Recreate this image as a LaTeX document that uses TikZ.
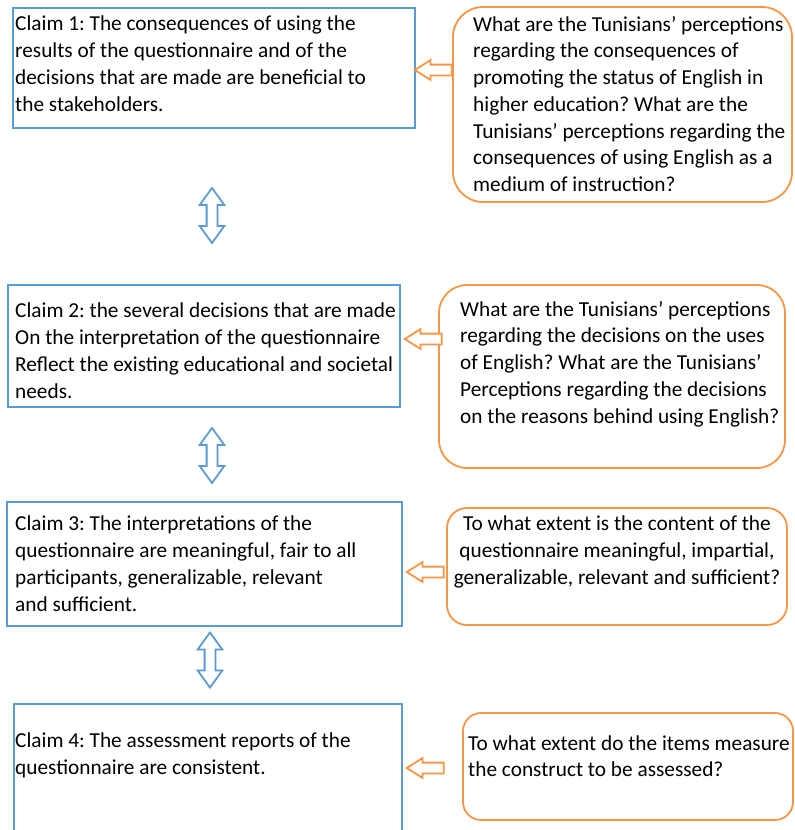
\documentclass[tikz,border=0pt]{standalone}
\usepackage{fontspec}
\setmainfont{Carlito}
\usetikzlibrary{shapes.arrows}

\definecolor{cblue}{RGB}{91,155,213}
\definecolor{qorange}{RGB}{247,150,70}

\begin{document}
\frenchspacing
\begin{tikzpicture}[
  x=1pt, y=-1pt,
  claimbox/.style={draw=cblue, line width=1.8pt, rectangle, inner sep=0pt},
  questbox/.style={draw=qorange, line width=1.8pt, rectangle, inner sep=0pt},
  boxtext/.style={anchor=north west, inner sep=0pt, align=left, text=black,
    font=\fontsize{21.3}{26.7}\selectfont},
  leftarrow/.style={single arrow, draw=qorange, line width=1.8pt, fill=white,
    shape border rotate=180, minimum height=37pt, inner sep=4.5pt,
    single arrow head extend=4.5pt, single arrow tip angle=64, anchor=tip},
  updown/.style={double arrow, draw=cblue, line width=1.8pt, fill=white,
    shape border rotate=90, minimum height=55pt, inner sep=4.5pt,
    double arrow head extend=7pt, double arrow tip angle=72}
]
\useasboundingbox (0,0) rectangle (795,830);

% claims on the left
\node[claimbox, minimum width=402pt, minimum height=120pt] (c1) at (214,68) {};
\node[claimbox, minimum width=392pt, minimum height=122pt] (c2) at (204,346) {};
\node[claimbox, minimum width=395pt, minimum height=124pt] (c3) at (204.5,564) {};
\node[claimbox, minimum width=388pt, minimum height=132pt] (c4) at (208,770) {};

% questions on the right
\node[questbox, rounded corners=30pt, minimum width=339pt, minimum height=195pt] (q1) at (622.5,104.5) {};
\node[questbox, rounded corners=28pt, minimum width=346pt, minimum height=183pt] (q2) at (612,376.5) {};
\node[questbox, rounded corners=20pt, minimum width=340pt, minimum height=117pt] (q3) at (617,566.5) {};
\node[questbox, rounded corners=18pt, minimum width=330pt, minimum height=107pt] (q4) at (628,766.5) {};

% texts
\node[boxtext] (c1t) at (15,16) {Claim 1: The consequences of using the\\
  results of the questionnaire and of the\\
  decisions that are made are beneficial to\\
  the stakeholders.};
\node[boxtext] (c2t) at (15,303) {Claim 2: the several decisions that are made\\
  On the interpretation of the questionnaire\\
  Reflect the existing educational and societal\\
  needs.};
\node[boxtext] (c3t) at (15,516) {Claim 3: The interpretations of the\\
  questionnaire are meaningful, fair to all\\
  participants, generalizable, relevant\\
  and sufficient.};
\node[boxtext] (c4t) at (15,733) {Claim 4: The assessment reports of the\\
  questionnaire are consistent.};

\node[boxtext] (q1t) at (473,16) {What are the Tunisians’ perceptions\\
  regarding the consequences of\\
  promoting the status of English in\\
  higher education? What are the\\
  Tunisians’ perceptions regarding the\\
  consequences of using English as a\\
  medium of instruction?};
\node[boxtext] (q2t) at (460,301) {What are the Tunisians’ perceptions\\
  regarding the decisions on the uses\\
  of English? What are the Tunisians’\\
  Perceptions regarding the decisions\\
  on the reasons behind using English?};
\node[boxtext, anchor=north, align=center] (q3t) at (617,516) {To what extent is the content of the\\
  questionnaire meaningful, impartial,\\
  generalizable, relevant and sufficient?};
\node[boxtext] (q4t) at (468,735) {To what extent do the items measure\\
  the construct to be assessed?};

% block arrows
\node[leftarrow] (a1) at (413,70) {};
\node[leftarrow] (a2) at (403,339) {};
\node[leftarrow] (a3) at (405,572) {};
\node[leftarrow] (a4) at (405,768) {};

\node[updown] (d1) at (212,215.5) {};
\node[updown] (d2) at (212,455.5) {};
\node[updown] (d3) at (210,660) {};
\end{tikzpicture}
\end{document}
